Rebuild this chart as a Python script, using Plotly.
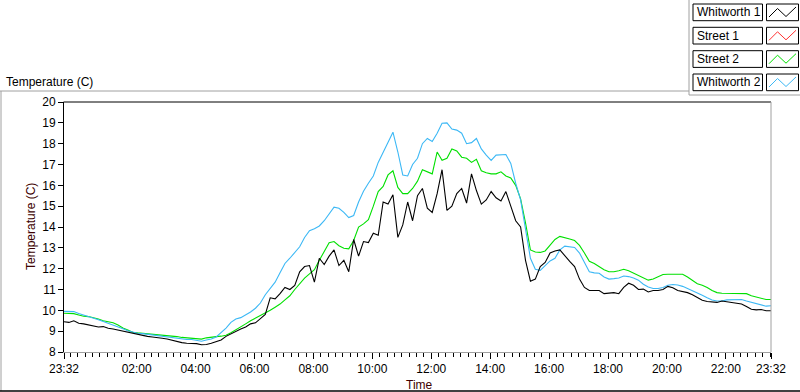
import plotly.graph_objects as go
import pandas as pd

# ---------------- data ----------------
start_time = "2023-01-01 23:32"
times = pd.date_range(start_time, periods=145, freq="10min")

whitworth1 = [
    9.45, 9.42, 9.50, 9.38, 9.35, 9.30, 9.28, 9.20, 9.22, 9.14, 9.10, 9.05, 8.98, 8.92, 8.88, 8.82, 8.80, 8.75,
    8.72, 8.70, 8.66, 8.62, 8.56, 8.50, 8.45, 8.42, 8.42, 8.40, 8.35, 8.36, 8.42, 8.50, 8.58, 8.75, 8.88, 9.00,
    9.10, 9.20, 9.35, 9.40, 9.60, 9.80, 10.60, 10.55, 10.80, 11.10, 11.00, 11.20, 11.85, 12.10, 12.15, 11.35,
    12.50, 12.20, 12.60, 12.90, 12.15, 12.40, 11.85, 13.40, 12.60, 13.30, 13.25, 13.70, 13.60, 15.20, 15.10, 15.55,
    13.50, 14.10, 15.20, 14.30,
    15.50, 15.85, 14.90, 14.70, 15.60, 16.75, 14.80, 15.00, 15.60, 15.85, 15.15, 16.55, 15.75, 15.10, 15.30, 15.70,
    15.40, 15.25, 15.70, 15.00, 14.30, 14.00, 12.40, 11.40, 11.50, 12.10, 12.30, 12.75, 12.85, 12.90, 12.60, 12.35,
    12.10, 11.50, 11.10, 10.95,
    10.95, 10.95, 10.80, 10.82, 10.85, 10.80, 11.10, 11.30, 11.20, 11.00, 11.02, 10.88, 10.95, 10.95, 11.00, 11.15,
    11.08, 10.95, 10.90, 10.85, 10.75, 10.60, 10.48, 10.42, 10.40, 10.38, 10.45, 10.42, 10.38, 10.36, 10.30, 10.18,
    10.05, 10.02, 10.04, 9.98, 9.98,
]

street1 = []

street2 = [
    9.86, 9.86, 9.84, 9.78, 9.72, 9.70, 9.65, 9.58, 9.50, 9.45, 9.40, 9.30, 9.15, 9.05, 8.95, 8.92, 8.90, 8.88,
    8.87, 8.85, 8.82, 8.78, 8.76, 8.74, 8.70, 8.68, 8.66, 8.64, 8.62, 8.68, 8.72, 8.74, 8.76, 8.80, 8.92, 9.05,
    9.22, 9.35, 9.50, 9.62, 9.75, 9.90, 10.00, 10.15, 10.30, 10.50, 10.70, 11.00, 11.30, 11.55, 11.75, 11.95,
    12.40, 12.85, 13.25, 13.30, 13.10, 12.98, 12.95, 13.35, 14.00, 14.15, 14.35, 15.00, 15.70, 15.95, 16.50, 16.70,
    15.90, 15.60, 15.60, 15.85,
    16.20, 16.75, 16.65, 16.55, 17.60, 17.20, 17.30, 17.75, 17.65, 17.35, 17.30, 17.10, 17.25, 16.70, 16.60, 16.55,
    16.55, 16.65, 16.45, 16.35, 16.00, 15.35, 14.20, 12.90, 12.80, 12.78, 12.85, 13.10, 13.40, 13.55, 13.50, 13.42,
    13.35, 13.12, 12.75, 12.35,
    12.25, 12.10, 11.95, 11.85, 11.85, 11.90, 11.97, 11.90, 11.78, 11.70, 11.55, 11.45, 11.50, 11.60, 11.72, 11.73,
    11.73, 11.73, 11.73, 11.60, 11.42, 11.28, 11.20, 11.10, 10.95, 10.85, 10.82, 10.82, 10.82, 10.82, 10.82, 10.80,
    10.70, 10.65, 10.60, 10.52, 10.52,
]

whitworth2 = [
    9.95, 9.95, 9.94, 9.85, 9.78, 9.70, 9.62, 9.55, 9.46, 9.38, 9.30, 9.22, 9.12, 9.02, 8.95, 8.90, 8.88, 8.85,
    8.82, 8.80, 8.76, 8.72, 8.70, 8.68, 8.62, 8.60, 8.60, 8.55, 8.52, 8.58, 8.62, 8.72, 8.92, 9.15, 9.42, 9.58,
    9.65, 9.78, 9.92, 10.10, 10.35, 10.75, 11.05, 11.35, 11.80, 12.25, 12.50, 12.80, 13.05, 13.50, 13.82, 13.92,
    14.05, 14.30, 14.60, 14.95, 14.90, 14.70, 14.45, 14.55, 15.20, 15.72, 16.10, 16.45, 17.10, 17.60, 18.10, 18.55,
    17.60, 16.50, 16.45, 17.00,
    17.30, 18.00, 18.25, 18.10, 18.50, 18.98, 19.00, 18.70, 18.65, 18.50, 18.00, 18.05, 18.25, 17.75, 17.45, 17.20,
    17.45, 17.48, 17.48, 17.05, 16.10, 15.30, 13.90, 12.50, 11.97, 11.92, 12.15, 12.37, 12.50, 12.90, 13.08, 13.06,
    13.02, 12.75, 12.30, 11.85,
    11.80, 11.78, 11.60, 11.50, 11.52, 11.55, 11.65, 11.62, 11.55, 11.45, 11.25, 11.12, 11.05, 11.05, 11.10, 11.20,
    11.24, 11.22, 11.15, 11.05, 10.95, 10.85, 10.72, 10.60, 10.50, 10.45, 10.45, 10.50, 10.50, 10.50, 10.52, 10.45,
    10.38, 10.33, 10.25, 10.20, 10.22,
]

series_names = ["Whitworth 1", "Street 1", "Street 2", "Whitworth 2"]
series_colors = ["#000000", "#ff3030", "#00e000", "#3cb8f5"]

tick_times = ["2023-01-01 23:32", "2023-01-02 02:00", "2023-01-02 04:00", "2023-01-02 06:00",
              "2023-01-02 08:00", "2023-01-02 10:00", "2023-01-02 12:00", "2023-01-02 14:00",
              "2023-01-02 16:00", "2023-01-02 18:00", "2023-01-02 20:00", "2023-01-02 22:00",
              "2023-01-02 23:32"]
tick_labels = ["23:32", "02:00", "04:00", "06:00", "08:00", "10:00", "12:00", "14:00",
               "16:00", "18:00", "20:00", "22:00", "23:32"]

# ---------------- figure ----------------
FONT = "Liberation Sans"
W, H = 800, 392
ML, MR, MT, MB = 64, 29, 102, 40
PW, PH = W - ML - MR, H - MT - MB


def px(x):
    return (x - ML) / PW


def py(y):
    return (H - MB - y) / PH


fig = go.Figure()
series_data = [whitworth1, street1, street2, whitworth2]
draw_order = [1, 2, 3, 0]
for k in draw_order:
    vals = series_data[k]
    fig.add_trace(go.Scatter(
        x=list(times[:len(vals)]), y=vals, mode="lines", name=series_names[k],
        line=dict(color=series_colors[k], width=1.1), showlegend=False, hoverinfo="skip",
    ))

GRAY = "#a0a0a0"
shapes = []


def line(x0, y0, x1, y1, color, width=1):
    shapes.append(dict(type="line", xref="paper", yref="paper",
                       x0=px(x0), y0=py(y0), x1=px(x1), y1=py(y1),
                       line=dict(color=color, width=width), layer="above"))


# plot frame: black top, gray right
line(ML - 0.5, MT, W - MR, MT, "#000000")
line(W - MR, MT, W - MR, H - MB, GRAY)
# outer panel frame
line(0, 91, 689, 91, GRAY)
line(1, 91, 1, 391, GRAY)
line(0, 391, 800, 391, "#000000", 1.5)
# legend panel
line(689, 0, 689, 95, GRAY)
line(689, 95, 800, 95, GRAY)

annotations = []
row_tops = [4, 27.3, 50.7, 74]
for name, color, top in zip(series_names, series_colors, row_tops):
    shapes.append(dict(type="rect", xref="paper", yref="paper",
                       x0=px(693), x1=px(762.5), y0=py(top), y1=py(top + 16.7),
                       line=dict(color="#000000", width=1), fillcolor="white", layer="above"))
    shapes.append(dict(type="rect", xref="paper", yref="paper",
                       x0=px(766.5), x1=px(798.5), y0=py(top), y1=py(top + 16.7),
                       line=dict(color="#000000", width=1), fillcolor="white", layer="above"))
    path = "M {} {} L {} {} L {} {} L {} {}".format(
        px(769), py(top + 13), px(777.5), py(top + 4.5), px(786), py(top + 12.5), px(796), py(top + 3))
    shapes.append(dict(type="path", xref="paper", yref="paper", path=path,
                       line=dict(color=color, width=1), layer="above"))
    annotations.append(dict(text=name, xref="paper", yref="paper", x=px(695), y=py(top + 8.5),
                            xanchor="left", yanchor="middle", showarrow=False,
                            font=dict(family=FONT, size=12, color="#000000")))

annotations.append(dict(text="Temperature (C)", xref="paper", yref="paper", x=px(4), y=py(82),
                        xanchor="left", yanchor="middle", showarrow=False,
                        font=dict(family=FONT, size=12, color="#000000")))
annotations.append(dict(text="Temperature (C)", xref="paper", yref="paper", x=px(31), y=py(227),
                        xanchor="center", yanchor="middle", textangle=-90, showarrow=False,
                        font=dict(family=FONT, size=12, color="#3c0000")))
annotations.append(dict(text="Time", xref="paper", yref="paper", x=px(419), y=py(385),
                        xanchor="center", yanchor="middle", showarrow=False,
                        font=dict(family=FONT, size=12, color="#3c0000")))

fig.update_layout(
    width=W, height=H, autosize=False,
    margin=dict(l=ML, r=MR, t=MT, b=MB, pad=0),
    paper_bgcolor="white", plot_bgcolor="white",
    font=dict(family=FONT, size=12, color="#000000"),
    shapes=shapes, annotations=annotations, showlegend=False,
    hovermode=False,
)
fig.update_xaxes(
    type="date", range=[times[0], times[-1]],
    tickmode="array", tickvals=tick_times, ticktext=tick_labels,
    ticks="outside", ticklen=6, tickcolor="#000000", tickwidth=1,
    showline=True, linecolor=GRAY, linewidth=1, showgrid=False, zeroline=False,
    tickfont=dict(family=FONT, size=12, color="#000000"),
    minor=dict(ticks="outside", ticklen=4, tickcolor="#000000", tickwidth=1,
               tickmode="linear", tick0="2023-01-01 23:45", dtick=15 * 60 * 1000, showgrid=False),
)
fig.update_yaxes(
    range=[8, 20], tickmode="linear", tick0=8, dtick=1,
    ticks="outside", ticklen=5, tickcolor="#000000", tickwidth=1,
    showline=True, linecolor="#000000", linewidth=1, showgrid=False, zeroline=False,
    tickfont=dict(family=FONT, size=12, color="#000000"),
)

fig.write_html(
    "out.html",
    config={"displayModeBar": False, "staticPlot": True},
    post_script="document.body.style.margin='0';document.body.style.overflow='hidden';",
)
